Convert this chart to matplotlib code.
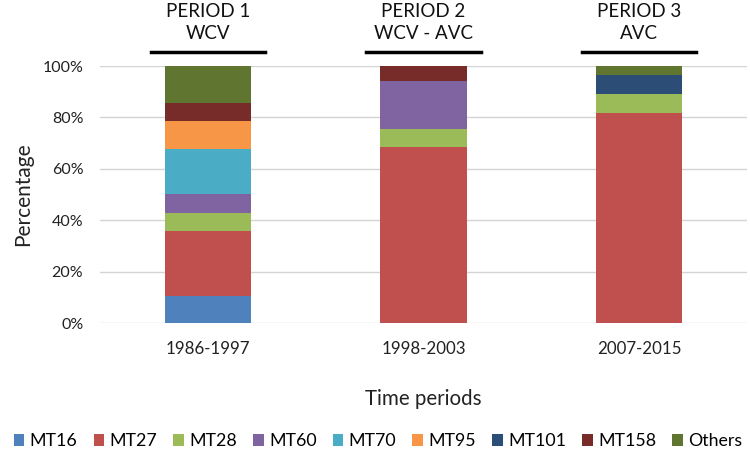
import numpy as np
import matplotlib
matplotlib.use('Agg')
import matplotlib.pyplot as plt
from matplotlib.patches import Patch

plt.rcParams['font.family'] = ['Lato', 'DejaVu Sans']

periods = ['1986-1997', '1998-2003', '2007-2015']
period_titles = ['PERIOD 1\nWCV', 'PERIOD 2\nWCV - AVC', 'PERIOD 3\nAVC']
types = ['MT16', 'MT27', 'MT28', 'MT60', 'MT70', 'MT95', 'MT101', 'MT158', 'Others']
colors = ['#4F81BD', '#C0504D', '#9BBB59', '#8064A2', '#4BACC6', '#F79646',
          '#2C4D75', '#772C2A', '#5F7530']

# percentages per period
mt16 = [10.7, 0.0, 0.0]
mt27 = [25.2, 68.6, 81.9]
mt28 = [7.1, 6.8, 7.3]
mt60 = [7.3, 18.7, 0.0]
mt70 = [17.5, 0.0, 0.0]
mt95 = [10.7, 0.0, 0.0]
mt101 = [0.0, 0.0, 7.3]
mt158 = [7.3, 5.9, 0.0]
others = [14.2, 0.0, 3.5]
series = [mt16, mt27, mt28, mt60, mt70, mt95, mt101, mt158, others]

fig = plt.figure(figsize=(7.5, 4.53), dpi=100)
ax = fig.add_axes([0.1333, 0.2863, 0.8627, 0.568])

x = np.arange(len(periods))
bottom = np.zeros(len(periods))
for vals, c in zip(series, colors):
    v = np.array(vals) / 100.0
    ax.bar(x, v, 0.4, bottom=bottom, color=c, zorder=3)
    bottom += v

ax.set_xlim(-0.5, 2.5)
ax.set_ylim(0, 1)
ax.set_yticks(np.linspace(0, 1, 6))
ax.set_yticklabels(['0%', '20%', '40%', '60%', '80%', '100%'], fontsize=11.5, color='#222222')
ax.set_xticks(x)
ax.set_xticklabels(periods, fontsize=12.2, color='#222222')
ax.tick_params(length=0, pad=12)
ax.tick_params(axis='x', pad=13)
ax.grid(axis='y', color='#d4d4d4', linewidth=1, zorder=0)
for s in ax.spines.values():
    s.set_visible(False)
ax.set_ylabel('Percentage', fontsize=15, labelpad=7, color='#222222')
ax.set_xlabel('Time periods', fontsize=14.8, labelpad=23, color='#222222')

# period headers above bars
for i, t in enumerate(period_titles):
    ax.annotate(t, xy=(i, 1.0), xycoords=('data', 'axes fraction'),
                xytext=(0, 17), textcoords='offset points',
                ha='center', va='bottom', fontsize=13.5, color='#111111',
                linespacing=1.38, annotation_clip=False)
    ax.plot([i - 0.265, i + 0.265], [1.055, 1.055], color='black', lw=2.5,
            transform=ax.get_xaxis_transform(), clip_on=False)

handles = [Patch(facecolor=c, label=t) for t, c in zip(types, colors)]
fig.legend(handles=handles, loc='center', bbox_to_anchor=(0.504, 0.026), ncol=9,
           frameon=False, fontsize=12.8, handlelength=0.6, handleheight=0.6,
           handletextpad=0.3, columnspacing=0.9)

fig.savefig('out.png', dpi=100)
